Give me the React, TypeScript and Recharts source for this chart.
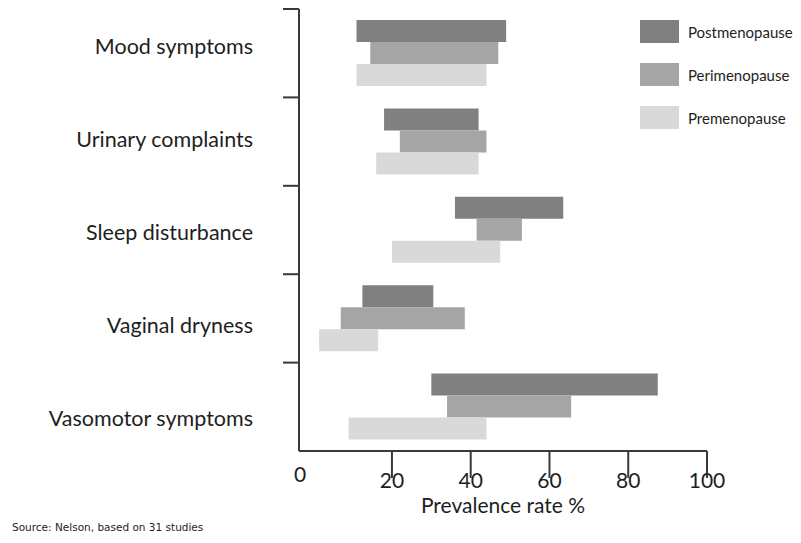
import React from 'react';
import { BarChart, Bar, XAxis, YAxis } from 'recharts';

// categories, top to bottom
const CATEGORIES = ['Mood symptoms', 'Urinary complaints', 'Sleep disturbance', 'Vaginal dryness', 'Vasomotor symptoms'];

// prevalence ranges [low, high] in %
const POSTMENOPAUSE = [[11, 49], [18, 42], [36, 63.5], [12.5, 30.5], [30, 87.5]];
const PERIMENOPAUSE = [[14.5, 47], [22, 44], [41.5, 53], [7, 38.5], [34, 65.5]];
const PREMENOPAUSE = [[11, 44], [16, 42], [20, 47.5], [1.5, 16.5], [9, 44]];

const X_TICKS = [0, 20, 40, 60, 80, 100];

const SERIES = [
  { key: 'post', name: 'Postmenopause', color: '#808080' },
  { key: 'peri', name: 'Perimenopause', color: '#a5a5a5' },
  { key: 'pre', name: 'Premenopause', color: '#d9d9d9' },
];

const data = CATEGORIES.map((name, i) => ({
  name,
  post: POSTMENOPAUSE[i],
  peri: PERIMENOPAUSE[i],
  pre: PREMENOPAUSE[i],
}));

const FONT = 'Lato, "Open Sans", sans-serif';
const TEXT = '#1e1e1e';
const AXIS = '#3a3a3a';

const W = 785;
const H = 527;
const PLOT_TOP = 1;
const PLOT_H = 442;
const BAND = PLOT_H / CATEGORIES.length;

const YTick = (props: any) => {
  const { x, y, payload, index } = props;
  const shift = (index - 2) * 4.6 + 2;
  return (
    <g>
      <line x1={x - 16} x2={x} y1={y - BAND / 2} y2={y - BAND / 2} stroke={AXIS} strokeWidth={2} />
      <text x={x - 46} y={y + shift} dy="0.35em" textAnchor="end" fontSize={21.5} fill={TEXT} fontFamily={FONT}>
        {payload.value}
      </text>
    </g>
  );
};

const XTick = (props: any) => {
  const { x, y, payload } = props;
  const first = payload.value === 0;
  return (
    <g>
      {!first && <line x1={x} x2={x} y1={y} y2={y + 27} stroke={AXIS} strokeWidth={2} />}
      <text
        x={first ? x - 13 : x}
        y={first ? y + 24 : y + 30}
        dy="0.35em"
        textAnchor="middle"
        fontSize={21}
        fill={TEXT}
        fontFamily={FONT}
      >
        {payload.value}
      </text>
    </g>
  );
};

export default function App() {
  return (
    <div style={{ position: 'relative', width: W, height: H, fontFamily: FONT }}>
      <BarChart
        width={W}
        height={H}
        data={data}
        layout="vertical"
        margin={{ top: PLOT_TOP, right: 86, bottom: 22, left: 0 }}
        barGap={0}
        barCategoryGap="12.5%"
      >
        <XAxis
          type="number"
          domain={[-3.6, 100]}
          ticks={X_TICKS}
          tick={<XTick />}
          tickLine={false}
          tickSize={0}
          tickMargin={0}
          axisLine={{ stroke: AXIS, strokeWidth: 2 }}
          height={62}
          label={{ value: 'Prevalence rate %', position: 'insideBottom', offset: 0, fontSize: 21, fill: TEXT, fontFamily: FONT }}
        />
        <YAxis
          type="category"
          dataKey="name"
          width={291}
          tick={<YTick />}
          tickLine={false}
          tickSize={0}
          tickMargin={0}
          axisLine={{ stroke: AXIS, strokeWidth: 2 }}
        />
        {SERIES.map((s) => (
          <Bar key={s.key} dataKey={s.key} name={s.name} fill={s.color} barSize={22} isAnimationActive={false} />
        ))}
      </BarChart>

      <div style={{ position: 'absolute', left: 632, top: 12 }}>
        {SERIES.map((s) => (
          <div key={s.key} style={{ display: 'flex', alignItems: 'center', height: 23, marginBottom: 20 }}>
            <div style={{ width: 39, height: 23, background: s.color }} />
            <span style={{ marginLeft: 9, fontSize: 15, color: TEXT, fontFamily: FONT, whiteSpace: 'nowrap' }}>{s.name}</span>
          </div>
        ))}
      </div>

      <div
        style={{
          position: 'absolute',
          left: 4,
          top: 513,
          fontSize: 10.5,
          lineHeight: '13px',
          color: TEXT,
          fontFamily: '"DejaVu Sans", sans-serif',
          whiteSpace: 'nowrap',
        }}
      >
        Source: Nelson, based on 31 studies
      </div>
    </div>
  );
}
